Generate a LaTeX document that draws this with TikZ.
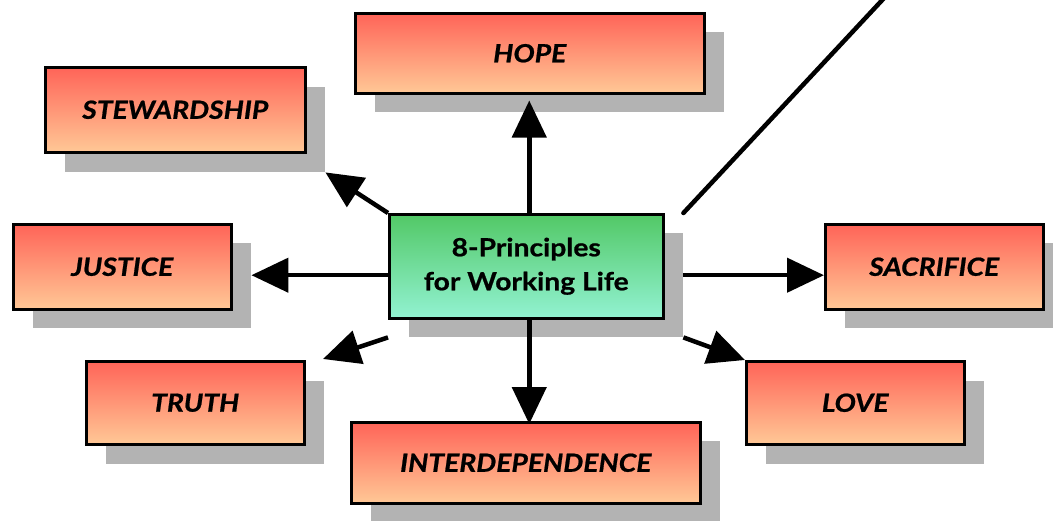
\documentclass[tikz,border=0pt]{standalone}
\usepackage{fontspec}
\setmainfont{Lato}[FakeStretch=1.13,FakeBold=0.8]
\usetikzlibrary{arrows.meta,calc}
\definecolor{redtop}{HTML}{FF6458}
\definecolor{redbot}{HTML}{FFC896}
\definecolor{greentop}{HTML}{52C866}
\definecolor{greenbot}{HTML}{92F2D2}
\definecolor{shad}{HTML}{B3B3B3}
\tikzset{
  shadowbox/.style={fill=shad, draw=none, inner sep=0pt, anchor=north west},
  redbox/.style={draw=black, line width=2.5pt, top color=redtop, bottom color=redbot,
     inner sep=0pt, anchor=north west, font=\fontsize{25}{30}\selectfont\bfseries\itshape},
  greenbox/.style={draw=black, line width=2.5pt, top color=greentop, bottom color=greenbot,
     inner sep=0pt, anchor=north west, align=center, font=\fontsize{25}{34}\selectfont\bfseries},
  conn/.style={line width=4.5pt, -{Triangle[length=37pt,width=34pt]}},
  plainline/.style={line width=4.5pt, line cap=round}
}
\begin{document}
\begin{tikzpicture}[x=1pt,y=-1pt]
\useasboundingbox (0,0) rectangle (1053,520);
% shadows
\node[shadowbox, minimum width=349pt, minimum height=80pt] (shope) at (375,32) {};
\node[shadowbox, minimum width=260pt, minimum height=85pt] (sstew) at (65,87) {};
\node[shadowbox, minimum width=218pt, minimum height=85pt] (sjus) at (33,243) {};
\node[shadowbox, minimum width=218pt, minimum height=83pt] (struth) at (106,381) {};
\node[shadowbox, minimum width=349pt, minimum height=81pt] (sinter) at (371,441) {};
\node[shadowbox, minimum width=218pt, minimum height=83pt] (slove) at (766,381) {};
\node[shadowbox, minimum width=218pt, minimum height=85pt] (ssac) at (845,243) {};
\node[shadowbox, minimum width=274pt, minimum height=104pt] (sc) at (409,233) {};
% boxes
\node[redbox, minimum width=349pt, minimum height=80pt] (hope) at (354,12) {HOPE};
\node[redbox, minimum width=260pt, minimum height=85pt] (stew) at (44,66) {STEWARDSHIP};
\node[redbox, minimum width=218pt, minimum height=85pt] (jus) at (12,223) {JUSTICE};
\node[redbox, minimum width=218pt, minimum height=83pt] (truth) at (85,360) {TRUTH};
\node[redbox, minimum width=349pt, minimum height=81pt] (inter) at (350,421) {INTERDEPENDENCE};
\node[redbox, minimum width=218pt, minimum height=83pt] (love) at (745,360) {LOVE};
\node[redbox, minimum width=218pt, minimum height=85pt] (sac) at (824,223) {SACRIFICE};
\node[greenbox, minimum width=274pt, minimum height=104pt] (c) at (388,213) {8-Principles\\for Working Life};
% helper coordinates
\coordinate (mid) at ($(c.north west)!0.5!(sc.south east)$);
\coordinate (ax) at ($(c.north)+(3,0)$);
\coordinate (truthtip) at (323,359);
\coordinate (farend) at (886,-4);
% connectors
\draw[conn] (ax) -- ($(ax |- hope.south)+(0,6)$);
\draw[conn] (ax |- c.south) -- ($(ax |- inter.north)+(0,3)$);
\draw[conn] (c.west |- mid) -- (mid -| sjus.east);
\draw[conn] (sc.east |- mid) -- (mid -| sac.west);
\draw[conn] (c.north west) -- (sstew.south east);
\draw[conn] (c.west |- sc.south) -- (truthtip);
\draw[conn] (sc.south east) -- (love.north west);
\draw[plainline] (sc.east |- c.north) -- (farend);
\end{tikzpicture}
\end{document}
